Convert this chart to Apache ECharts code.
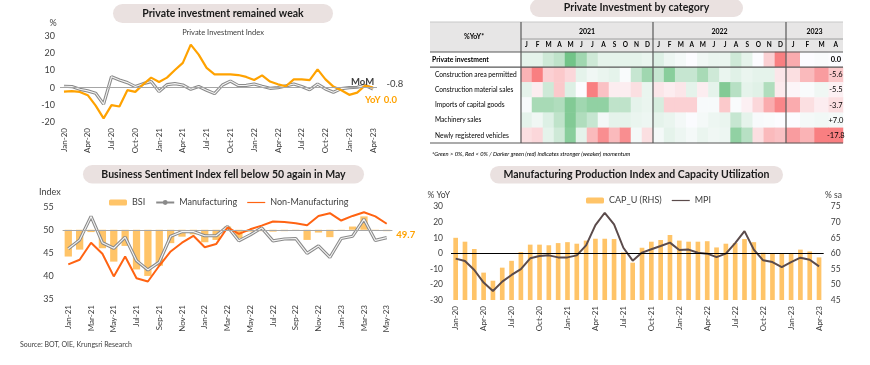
<!DOCTYPE html>
<html><head><meta charset="utf-8">
<script src="https://cdn.jsdelivr.net/npm/echarts@6/dist/echarts.min.js"></script>
<style>html,body{margin:0;padding:0;background:#fff}#c{width:870px;height:365px}</style>
</head><body><div id="c"></div>
<script>
// ---------- DATA ----------
const months40 = ['Jan-20','Feb-20','Mar-20','Apr-20','May-20','Jun-20','Jul-20','Aug-20','Sep-20','Oct-20','Nov-20','Dec-20',
  'Jan-21','Feb-21','Mar-21','Apr-21','May-21','Jun-21','Jul-21','Aug-21','Sep-21','Oct-21','Nov-21','Dec-21',
  'Jan-22','Feb-22','Mar-22','Apr-22','May-22','Jun-22','Jul-22','Aug-22','Sep-22','Oct-22','Nov-22','Dec-22',
  'Jan-23','Feb-23','Mar-23','Apr-23'];
const piYoY = [-2.3,-2.1,-2.5,-4.4,-10.5,-17.9,-10.2,-11.0,-1.5,-2.5,1.9,5.8,3.3,5.8,10.2,14.4,25.0,19.2,11.5,7.7,7.7,7.7,7.3,6.2,4.4,7.1,3.5,1.9,0.8,4.8,4.8,4.4,10.6,4.8,0.6,-1.5,-4.2,-2.9,1.2,0.0];
const piMoM = [0.8,0.6,-1.0,-1.9,-3.3,-9.6,6.3,4.4,2.9,0.6,2.3,3.5,-2.3,1.7,2.3,1.5,-1.0,0.6,-1.5,-3.5,1.5,3.8,1.2,1.3,2.1,0.8,-0.4,0.0,1.0,2.1,0.6,-1.3,2.1,-0.8,-2.7,-0.6,0.0,0.2,1.3,-0.8];

const months29 = ['Jan-21','Feb-21','Mar-21','Apr-21','May-21','Jun-21','Jul-21','Aug-21','Sep-21','Oct-21','Nov-21','Dec-21',
  'Jan-22','Feb-22','Mar-22','Apr-22','May-22','Jun-22','Jul-22','Aug-22','Sep-22','Oct-22','Nov-22','Dec-22',
  'Jan-23','Feb-23','Mar-23','Apr-23','May-23'];
const bsi = [44.2,45.7,49.5,46.0,43.1,46.5,41.4,40.0,42.2,47.1,48.5,49.0,47.3,47.8,50.7,48.2,49.6,49.7,49.6,49.7,49.8,47.8,49.4,48.4,49.8,50.7,52.9,49.8,49.7];
const bsiManuf = [45.9,47.8,52.9,47.2,46.0,48.4,43.3,41.3,43.0,48.6,49.6,49.6,48.7,48.7,50.7,47.6,48.9,50.4,47.6,48.0,48.1,44.9,46.5,44.0,48.1,48.6,52.3,47.7,48.3];
const bsiNonManuf = [42.5,43.5,47.2,44.8,39.9,44.2,39.5,38.8,42.2,45.3,47.2,48.7,46.2,46.9,50.5,49.1,50.1,50.9,51.8,51.7,51.4,51.0,53.0,53.6,52.0,53.0,53.8,52.9,51.3];
const bsiThreshold = 50;

const capU = [65.0,63.75,61.4,53.8,51.2,55.4,57.6,60.4,62.8,62.8,62.6,63.3,63.6,63.1,64.1,64.7,64.7,64.6,60.3,57.0,61.8,63.75,64.3,65.9,64.1,63.75,63.75,63.9,61.9,63.1,63.3,64.6,63.6,60.2,59.9,59.9,60.1,61.2,60.6,58.7];
const mpi = [-3.4,-4.9,-10.7,-18.8,-24.2,-18.2,-13.9,-10.1,-3.2,-1.7,-1.3,-2.6,-2.6,-1.3,5.1,18.2,26.1,18.6,3.6,-4.7,0.5,2.6,4.7,6.9,2.1,2.4,0.4,-0.2,-2.4,-0.2,6.6,14.3,2.4,-4.5,-5.6,-8.8,-5.6,-2.8,-4.1,-8.4];

// heatmap: momentum scores (-1 strong red .. +1 strong green), Jan-21..Apr-23
const hmRows = ['Private investment','Construction area permitted','Construction material sales','Imports of capital goods','Machinery sales','Newly registered vehicles'];
const hmYears = ['2021','2022','2023'];
const hmMonthsFull = ['J','F','M','A','M','J','J','A','S','O','N','D'];
const hmMonths2023 = ['J','F','M','A'];
const scPrivInv   = [0.15,0.15,0.3,0.4,0.9,0.6,0.3,0.15,0.15,0.15,0.15,0.12, 0.2,0.1,0.05,0,0.08,0.12,0.12,0.3,0.15,0,-0.3,-0.85, -0.55,0,0.02,0];
const scConstrArea= [-0.5,-0.85,-0.3,-0.35,-0.25,0.15,0.08,0.12,0.15,0.02,0.35,0.6, 0.35,0.75,0.35,0.35,0.55,0.3,0.12,0.18,0.12,0.15,0.15,-0.15, -0.2,-0.45,-0.65,-0.35];
const scConstrMat = [0.15,-0.1,0.3,-0.35,0.2,0,-0.85,-0.4,-0.1,-0.1,-0.2,0.12, -0.15,-0.1,-0.15,0.15,-0.1,0.15,0.8,0.45,0.15,0.18,0.5,-0.12, -0.05,0.02,0.08,-0.08];
const scImports   = [0.03,0.55,0.55,0.5,0.8,0.6,0.7,0.7,0.4,0.4,0.15,0.12, 0.25,-0.3,-0.3,-0.3,0.03,0.03,-0.35,0.02,-0.08,-0.25,-0.55,-0.8, -0.55,-0.2,-0.1,-0.2];
const scMachinery = [0.15,0.08,0.2,0.4,0.8,0.5,0.35,0.06,0.15,0.15,0.12,0.1, 0.15,0.12,0.06,0.01,0.05,0.1,0.12,0.35,0.15,0.03,0.02,0, 0,0.05,0.07,0.05];
const scVehicles  = [-0.2,-0.25,0.15,0.3,0.75,0.15,-0.45,-0.75,-0.45,-0.75,0.05,-0.2, 0.05,0.15,0.1,0.05,0.12,0.08,0.1,0.7,0.45,-0.2,-0.45,-0.4, -0.65,-0.5,-0.85,-0.85];
const aprLabels = ['0.0','-5.6','-5.5','-3.7','+7.0','-17.8'];

// ---------- BUILD ----------
const FONT = 'Lato';
const TXT = '#404040';
const C_YOY = '#FFA200', C_GRAY = '#8A8A8A', C_NONMAN = '#FF6312', C_BAR = '#FFC468', C_MPI = '#5B4B4B';
const hmScores = [scPrivInv, scConstrArea, scConstrMat, scImports, scMachinery, scVehicles];
function hmData(start, count) {
  const d = [];
  hmScores.forEach((row, r) => { for (let m = 0; m < count; m++) d.push([m, r, row[start + m]]); });
  return d;
}
function pill(x, y, w, h, text) {
  return [
    {type:'rect', shape:{x:x, y:y, width:w, height:h, r:h/2}, style:{fill:'#EAE1E0'}, z:1},
    {type:'text', x:x + w/2, y:y + h/2, style:{text:text, fill:'#1a1a1a', font:'bold 10.5px ' + FONT, textAlign:'center', textVerticalAlign:'middle'}, z:2}
  ];
}
function hline(x1, x2, y, c, w) { return {type:'line', shape:{x1:x1, y1:y, x2:x2, y2:y}, style:{stroke:c, lineWidth:w}, z:50}; }
function vline(x, y1, y2, c, w) { return {type:'line', shape:{x1:x, y1:y1, x2:x, y2:y2}, style:{stroke:c, lineWidth:w}, z:50}; }
function txt(x, y, text, font, align, color) {
  return {type:'text', x:x, y:y, style:{text:text, font:font, fill:color || TXT, textAlign:align || 'left', textVerticalAlign:'middle'}, z:5};
}
// thin horizontal line legend icon (bbox padded to full item box)
const lineIcon = 'path://M0,0 M0,2.4 L18,2.4 L18,3.6 L0,3.6 Z M18,6';

const noAxis = {axisLine:{show:false}, axisTick:{show:false}, splitLine:{show:false}};
const rotLabel = (interval, margin) => ({rotate:90, interval:interval, fontSize:8, color:TXT, margin:margin, fontFamily:FONT});
const zeroLine = (v, c) => ({silent:true, symbol:'none', label:{show:false}, emphasis:{disabled:true}, lineStyle:{color:c, width:1, type:'solid'}, data:[{yAxis:v}]});

const hmXAxis = (grid, data, year) => Object.assign({type:'category', gridIndex:grid, data:data, position:'top',
  name:year, nameLocation:'middle', nameGap:17, nameTextStyle:{fontWeight:'bold', fontSize:7, color:'#000', fontFamily:FONT},
  axisLabel:{interval:0, fontSize:6.5, fontWeight:'bold', color:'#000', margin:4, fontFamily:FONT}}, noAxis);
const hmYAxis = (grid, showLabels) => Object.assign({type:'category', gridIndex:grid, data:hmRows, inverse:true,
  axisLabel: showLabels ? {show:true, align:'left', margin:89, fontSize:6.6, color:'#000', fontFamily:FONT,
    formatter:(v, i) => i === 0 ? '{b|' + v + '}' : '{n|' + v + '}',
    rich:{b:{fontWeight:'bold', fontSize:6.8, color:'#000', fontFamily:FONT}, n:{fontSize:6.6, color:'#000', padding:[0,0,0,3], fontFamily:FONT}}} : {show:false}}, noAxis);

const option = {
  animation:false,
  backgroundColor:'#fff',
  textStyle:{fontFamily:FONT},
  grid:[
    {left:60, top:36, width:317, height:86},
    {left:521, top:52, width:132, height:91},
    {left:653, top:52, width:133, height:91},
    {left:786, top:52, width:57, height:91},
    {left:62.6, top:206.7, width:329.8, height:92.3},
    {left:451, top:206.7, width:372.7, height:93.3}
  ],
  xAxis:[
    Object.assign({type:'category', gridIndex:0, data:months40, boundaryGap:true, axisLabel:rotLabel(2, 6)}, noAxis),
    hmXAxis(1, hmMonthsFull, hmYears[0]),
    hmXAxis(2, hmMonthsFull, hmYears[1]),
    hmXAxis(3, hmMonths2023, hmYears[2]),
    Object.assign({type:'category', gridIndex:4, data:months29, boundaryGap:true, axisLabel:rotLabel(1, 6)}, noAxis),
    Object.assign({type:'category', gridIndex:5, data:months40, boundaryGap:true, axisLabel:rotLabel(2, 6)}, noAxis)
  ],
  yAxis:[
    Object.assign({type:'value', gridIndex:0, min:-20, max:30, interval:10, axisLabel:{fontSize:9, color:TXT, margin:5}}, noAxis),
    hmYAxis(1, true), hmYAxis(2, false), hmYAxis(3, false),
    Object.assign({type:'value', gridIndex:4, min:35, max:55, interval:5, axisLabel:{fontSize:9, color:TXT, margin:9}}, noAxis),
    Object.assign({type:'value', gridIndex:4, min:35 - bsiThreshold, max:55 - bsiThreshold, show:false}, noAxis),
    Object.assign({type:'value', gridIndex:5, min:-30, max:30, interval:10, axisLabel:{fontSize:8.5, color:TXT, margin:8}}, noAxis),
    Object.assign({type:'value', gridIndex:5, min:45, max:75, interval:5, position:'right', axisLabel:{fontSize:8.5, color:TXT, margin:7}}, noAxis)
  ],
  visualMap:{type:'continuous', min:-1, max:1, show:false, seriesIndex:[3,4,5], dimension:2,
    inRange:{color:['#F8696B','#FCFCFF','#63BE7B']}},
  legend:[
    {data:['BSI', 'Manufacturing', {name:'Non-Manufacturing', icon:lineIcon, itemStyle:{color:C_NONMAN}}], left:104, top:193, itemWidth:18, itemHeight:6, itemGap:10,
      textStyle:{fontSize:9, color:TXT, fontFamily:FONT}, selectedMode:false},
    {data:['CAP_U (RHS)', {name:'MPI', icon:lineIcon, itemStyle:{color:C_MPI}}], left:581, top:191, itemWidth:18, itemHeight:6, itemGap:10,
      textStyle:{fontSize:9, color:TXT, fontFamily:FONT}, selectedMode:false}
  ],
  series:[
    // 0-2: private investment index
    {type:'line', name:'MoM', color:C_GRAY, xAxisIndex:0, yAxisIndex:0, data:piMoM, symbol:'none', lineStyle:{color:C_GRAY, width:3.2},
      markLine:zeroLine(0, '#A6A6A6'), emphasis:{disabled:true}},
    {type:'line', name:'MoM ', color:'#F4F4F4', xAxisIndex:0, yAxisIndex:0, data:piMoM, symbol:'none', lineStyle:{color:'#F4F4F4', width:1.1},
      emphasis:{disabled:true},
      endLabel:{show:true, offset:[-30,-7], formatter:p => '{m|MoM}    {v|' + (+p.value).toFixed(1) + '}',
        rich:{m:{fontWeight:'bold', fontSize:9.5, color:'#404040', fontFamily:FONT}, v:{fontSize:9.5, color:'#404040', fontFamily:FONT, padding:[3,0,0,0]}}}},
    {type:'line', name:'YoY', color:C_YOY, xAxisIndex:0, yAxisIndex:0, data:piYoY, symbol:'none', lineStyle:{color:C_YOY, width:2.2},
      emphasis:{disabled:true},
      endLabel:{show:true, offset:[-16,12], formatter:p => '{k|YoY} {v|' + (+p.value).toFixed(1) + '}',
        rich:{k:{fontWeight:'bold', fontSize:9.5, color:C_YOY, fontFamily:FONT}, v:{fontWeight:'bold', fontSize:9.5, color:C_YOY, fontFamily:FONT}}}},
    // 3-5: heatmap
    {type:'heatmap', xAxisIndex:1, yAxisIndex:1, data:hmData(0, 12), emphasis:{disabled:true}, itemStyle:{borderWidth:0}},
    {type:'heatmap', xAxisIndex:2, yAxisIndex:2, data:hmData(12, 12), emphasis:{disabled:true}, itemStyle:{borderWidth:0}},
    {type:'heatmap', xAxisIndex:3, yAxisIndex:3, data:hmData(24, 4), emphasis:{disabled:true}, itemStyle:{borderWidth:0},
      label:{show:true, fontSize:7.5, color:'#000', fontFamily:FONT,
        formatter:p => p.value[0] === 3 ? (p.value[1] === 0 ? '{b|' + aprLabels[0] + '}' : aprLabels[p.value[1]]) : '',
        rich:{b:{fontWeight:'bold', fontSize:7.5, color:'#000', fontFamily:FONT}}}},
    // 6-9: business sentiment
    {type:'bar', name:'BSI', color:C_BAR, xAxisIndex:4, yAxisIndex:5, data:bsi.map(v => +(v - bsiThreshold).toFixed(2)), barWidth:'64%',
      itemStyle:{color:C_BAR}, emphasis:{disabled:true},
      label:{show:true, position:'right', offset:[1,4], color:C_YOY, fontWeight:'bold', fontSize:9.5, fontFamily:FONT,
        formatter:p => p.dataIndex === bsi.length - 1 ? bsi[p.dataIndex].toFixed(1) : ''}},
    {type:'line', name:'Manufacturing', color:C_GRAY, xAxisIndex:4, yAxisIndex:4, data:bsiManuf, symbol:'none', lineStyle:{color:C_GRAY, width:3.2},
      markLine:zeroLine(bsiThreshold, '#A6A6A6'), emphasis:{disabled:true}},
    {type:'line', name:'Manufacturing', color:'#F4F4F4', xAxisIndex:4, yAxisIndex:4, data:bsiManuf, symbol:'none', lineStyle:{color:'#F4F4F4', width:1.1}, emphasis:{disabled:true}},
    {type:'line', name:'Non-Manufacturing', color:C_NONMAN, xAxisIndex:4, yAxisIndex:4, data:bsiNonManuf, symbol:'none', lineStyle:{color:C_NONMAN, width:2}, emphasis:{disabled:true}},
    // 10-11: MPI & CAP_U
    {type:'bar', name:'CAP_U (RHS)', color:C_BAR, xAxisIndex:5, yAxisIndex:7, data:capU, barWidth:'50%', itemStyle:{color:C_BAR}, emphasis:{disabled:true}},
    {type:'line', name:'MPI', color:C_MPI, xAxisIndex:5, yAxisIndex:6, data:mpi, symbol:'none', lineStyle:{color:C_MPI, width:2},
      markLine:zeroLine(0, '#000'), emphasis:{disabled:true}}
  ],
  graphic:[
    ...pill(113, 4, 220, 19, 'Private investment remained weak'),
    ...pill(530, -1, 213, 18, 'Private Investment by category'),
    ...pill(83, 165, 281, 18.5, 'Business Sentiment Index fell below 50 again in May'),
    ...pill(490, 166, 293, 17.5, 'Manufacturing Production Index and Capacity Utilization'),
    txt(53, 23, '%', '9px ' + FONT, 'center'),
    txt(223, 33, 'Private Investment Index', '7.5px ' + FONT, 'center'),
    txt(39, 192, 'Index', '9px ' + FONT, 'left'),
    txt(450, 195, '% YoY', '8.5px ' + FONT, 'right'),
    txt(825, 195, '% sa', '8.5px ' + FONT, 'left'),
    txt(20, 345, 'Source: BOT, OIE, Krungsri Research', '7px ' + FONT, 'left'),
    // table header
    {type:'rect', shape:{x:430, y:22, width:413, height:30}, style:{fill:'#E7E6E6'}, z:-10},
    txt(474, 37, '%YoY*', 'bold 7px ' + FONT, 'center', '#000'),
    txt(432, 154, '*Green > 0%, Red < 0% / Darker green (red) indicates stronger (weaker) momentum', 'italic 5.8px ' + FONT, 'left', '#000'),
    hline(430, 843, 22, '#C8C8C8', 1),
    hline(521, 843, 39, '#8C8C8C', 0.8),
    hline(430, 843, 52, '#595959', 1.2),
    hline(430, 843, 67.2, '#595959', 1.2),
    hline(430, 843, 143, '#595959', 1.2),
    vline(521, 22, 143, '#595959', 1.2),
    vline(653, 22, 143, '#595959', 1.2),
    vline(786, 22, 143, '#595959', 1.2)
  ]
};
const chart = echarts.init(document.getElementById('c'), null, {renderer:'canvas'});
chart.setOption(option);
</script></body></html>
